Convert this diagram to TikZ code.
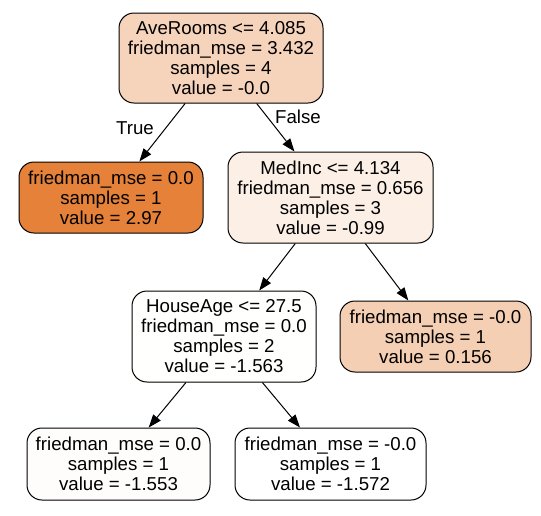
\documentclass[tikz,border=0pt]{standalone}
\usepackage{fontspec}
\setmainfont{Liberation Sans}
\usetikzlibrary{arrows.meta}
\definecolor{cRoot}{RGB}{246,211,187}
\definecolor{cLeaf}{RGB}{229,129,57}
\definecolor{cMed}{RGB}{252,239,230}
\definecolor{cHouse}{RGB}{255,255,254}
\definecolor{cRight}{RGB}{245,207,180}
\definecolor{cBL}{RGB}{255,253,252}
\definecolor{cBR}{RGB}{255,255,255}
\tikzset{
  treebox/.style={draw=black, line width=1pt, rounded corners=15pt, align=center, inner sep=0pt,
    font=\fontsize{18.67}{20}\selectfont},
  edge/.style={draw=black, line width=1pt, -{Triangle[length=13pt,width=9.5pt]}},
  elabel/.style={font=\fontsize{18.67}{20}\selectfont, inner sep=0pt}
}
\begin{document}
\begin{tikzpicture}[x=1pt,y=-1pt]
\useasboundingbox (0,0) rectangle (541,515);
\node[treebox, fill=cRoot, minimum width=204pt, minimum height=90pt] (root) at (221,58)
  {AveRooms <= 4.085\\friedman\_mse = 3.432\\samples = 4\\value = -0.0};
\node[treebox, fill=cLeaf, minimum width=184pt, minimum height=71pt] (leafL) at (111,197.5)
  {friedman\_mse = 0.0\\samples = 1\\value = 2.97};
\node[treebox, fill=cMed, minimum width=205pt, minimum height=91pt] (med) at (330.5,197.5)
  {MedInc <= 4.134\\friedman\_mse = 0.656\\samples = 3\\value = -0.99};
\node[treebox, fill=cHouse, minimum width=184pt, minimum height=91pt] (house) at (224,336.5)
  {HouseAge <= 27.5\\friedman\_mse = 0.0\\samples = 2\\value = -1.563};
\node[treebox, fill=cRight, minimum width=191pt, minimum height=71pt] (leafR) at (435.5,336.5)
  {friedman\_mse = -0.0\\samples = 1\\value = 0.156};
\node[treebox, fill=cBL, minimum width=183pt, minimum height=72pt] (bl) at (118.5,464)
  {friedman\_mse = 0.0\\samples = 1\\value = -1.553};
\node[treebox, fill=cBR, minimum width=191pt, minimum height=72pt] (br) at (330.5,464)
  {friedman\_mse = -0.0\\samples = 1\\value = -1.572};
\draw[edge] (root) -- (leafL);
\draw[edge] (root) -- (med);
\draw[edge] (med) -- (house);
\draw[edge] (med) -- (leafR);
\draw[edge] (house) -- (bl);
\draw[edge] (house) -- (br);
\node[elabel] (ltrue) at (135,128) {True};
\node[elabel] (lfalse) at (298,117) {False};
\end{tikzpicture}
\end{document}
